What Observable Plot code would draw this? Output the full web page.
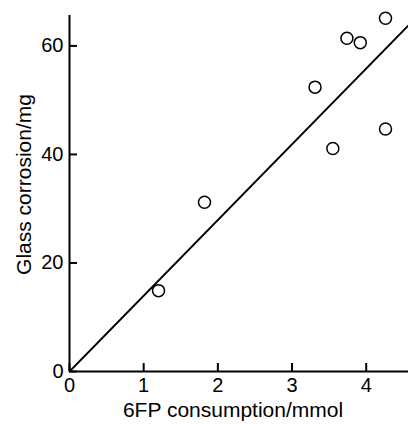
<!DOCTYPE html>
<html>
<head>
<meta charset="utf-8">
<script src="https://cdn.jsdelivr.net/npm/d3@7"></script>
<script src="https://cdn.jsdelivr.net/npm/@observablehq/plot@0.6"></script>
<style>
  html, body { margin: 0; padding: 0; background: #fff; }
  svg { display: block; }
</style>
</head>
<body>
<div id="chart"></div>
<script>
const consumption = [1.20, 1.82, 3.31, 3.55, 3.74, 3.92, 4.26, 4.26];
const corrosion   = [14.9, 31.2, 52.4, 41.1, 61.4, 60.6, 65.1, 44.7];
const fitX = [0, 4.6];
const fitY = [0, 64.2];
const xTicks = [0, 1, 2, 3, 4];
const yTicks = [0, 20, 40, 60];
const xLabel = "6FP consumption/mmol";
const yLabel = "Glass corrosion/mg";

const points = consumption.map((x, i) => ({x, y: corrosion[i]}));
const fit = fitX.map((x, i) => ({x, y: fitY[i]}));

const FS = 20;
const LFS = 21;

const chart = Plot.plot({
  width: 408,
  height: 424,
  marginLeft: 69,
  marginRight: 0,
  marginTop: 15,
  marginBottom: 53,
  style: {fontFamily: "'Liberation Sans', Arial, sans-serif", fontSize: FS + "px", color: "#000", background: "#fff"},
  x: {domain: [0, 4.57]},
  y: {domain: [0, 65.6]},
  marks: [
    Plot.axisX(xTicks, {tickSize: -8, tickPadding: 14, strokeWidth: 2, label: null, fontSize: FS}),
    Plot.axisY(yTicks, {tickSize: -8, tickPadding: 14, strokeWidth: 2, label: null, fontSize: FS}),
    Plot.ruleX([0], {strokeWidth: 2}),
    Plot.ruleY([0], {strokeWidth: 2}),
    Plot.line(fit, {x: "x", y: "y", stroke: "#000", strokeWidth: 1.8}),
    Plot.dot(points, {x: "x", y: "y", r: 6, stroke: "#000", strokeWidth: 1.5, fill: "#fff"}),
    Plot.text([xLabel], {frameAnchor: "bottom", textAnchor: "middle", lineAnchor: "middle", dy: 39, dx: -6, fontSize: LFS}),
    Plot.text([yLabel], {frameAnchor: "left", textAnchor: "middle", lineAnchor: "middle", dx: -45, dy: -9, rotate: -90, fontSize: LFS})
  ]
});
document.getElementById("chart").appendChild(chart);
</script>
</body>
</html>
